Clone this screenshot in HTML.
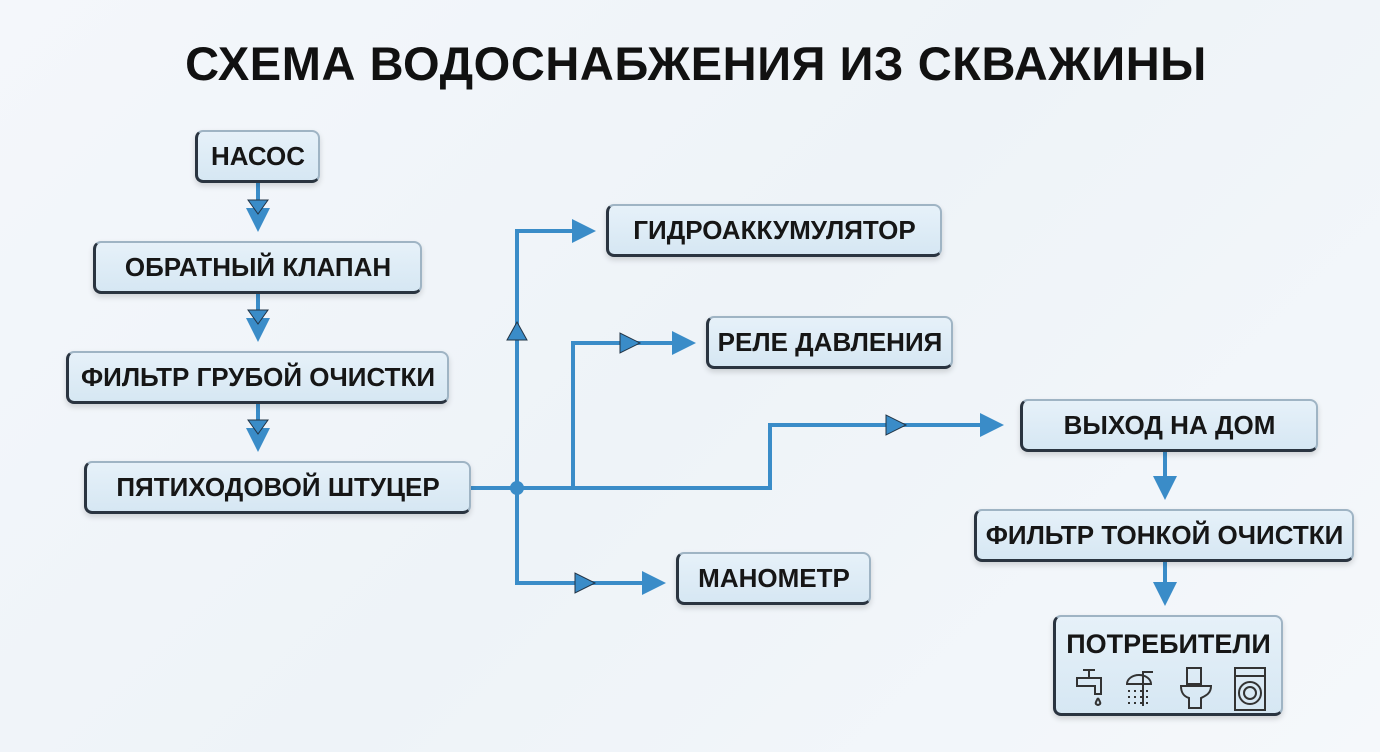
<!DOCTYPE html>
<html><head><meta charset="utf-8"><style>
body{margin:0;width:1380px;height:752px;overflow:hidden;background:linear-gradient(135deg,#f4f7fb,#eef3f8 50%,#f5f8fb);font-family:"Liberation Sans",sans-serif;position:relative}
h1{position:absolute;top:36px;left:0;width:1392px;text-align:center;margin:0;font-size:47px;font-weight:bold;color:#111;letter-spacing:0.6px}
.b{position:absolute;box-sizing:border-box;background:linear-gradient(#e6f1f9,#d6e7f3);border:2px solid #9fb4c4;border-left:3px solid #2a3440;border-bottom:3px solid #2a3440;border-radius:8px;display:flex;align-items:center;justify-content:center;font-size:26px;font-weight:bold;color:#161616;box-shadow:0 3px 6px rgba(0,0,0,.15);white-space:nowrap}
svg{position:absolute;left:0;top:0}
</style></head><body>
<h1>СХЕМА ВОДОСНАБЖЕНИЯ ИЗ СКВАЖИНЫ</h1>
<svg width="1380" height="752">
<defs><marker id="a" markerWidth="6" markerHeight="6" refX="5" refY="3" orient="auto" markerUnits="strokeWidth"><path d="M0,0L6,3L0,6z" fill="#3a8cc8"/></marker></defs>
<g stroke="#3a8cc8" stroke-width="4" fill="none">
<path d="M258 183V228" marker-end="url(#a)"/>
<path d="M258 294V338" marker-end="url(#a)"/>
<path d="M258 404V448" marker-end="url(#a)"/>
<path d="M471 488H770V425H1000" marker-end="url(#a)"/>
<path d="M517 585V231H592" marker-end="url(#a)"/>
<path d="M517 583H662" marker-end="url(#a)"/>
<path d="M573 488V343H692" marker-end="url(#a)"/>
<path d="M1165 452V496" marker-end="url(#a)"/>
<path d="M1165 562V602" marker-end="url(#a)"/>
</g>
<g fill="#3a8cc8" stroke="#234" stroke-width="1">
<path d="M248 200L268 200L258 214z"/><path d="M248 310L268 310L258 324z"/><path d="M248 420L268 420L258 434z"/>
<path d="M507 340L527 340L517 322z"/><path d="M620 333L620 353L640 343z"/><path d="M575 573L575 593L595 583z"/><path d="M886 415L886 435L906 425z"/>
</g>
<circle cx="517" cy="488" r="7" fill="#3a8cc8"/>
</svg>
<div class="b" style="left:195px;top:130px;width:125px;height:53px">НАСОС</div>
<div class="b" style="left:93px;top:241px;width:329px;height:53px">ОБРАТНЫЙ КЛАПАН</div>
<div class="b" style="left:66px;top:351px;width:383px;height:53px">ФИЛЬТР ГРУБОЙ ОЧИСТКИ</div>
<div class="b" style="left:84px;top:461px;width:387px;height:53px">ПЯТИХОДОВОЙ ШТУЦЕР</div>
<div class="b" style="left:606px;top:204px;width:336px;height:53px">ГИДРОАККУМУЛЯТОР</div>
<div class="b" style="left:706px;top:316px;width:247px;height:53px">РЕЛЕ ДАВЛЕНИЯ</div>
<div class="b" style="left:676px;top:552px;width:195px;height:53px">МАНОМЕТР</div>
<div class="b" style="left:1020px;top:399px;width:298px;height:53px">ВЫХОД НА ДОМ</div>
<div class="b" style="left:974px;top:509px;width:380px;height:53px">ФИЛЬТР ТОНКОЙ ОЧИСТКИ</div>
<div class="b" style="left:1053px;top:615px;width:230px;height:101px;flex-direction:column;justify-content:flex-start;padding-top:12px;font-size:27px">ПОТРЕБИТЕЛИ
<svg style="position:static;margin-top:6px" width="200" height="46" viewBox="0 0 200 46" fill="none" stroke="#333" stroke-width="2">
<path d="M8 12h24v16h-6v-8H8zM14 4h12M20 4v8M29 32c-2 4-4 6 0 7 4-1 2-3 0-7"/>
<path d="M74 40V6h10M58 18a12 9 0 0 1 24 0zM60 24v2M66 24v2M72 24v2M78 24v2M60 30v2M66 30v2M72 30v2M78 30v2M60 36v2M66 36v2M72 36v2M78 36v2"/>
<path d="M118 2h14v16h-14zM112 20h30c0 8-6 10-10 12v10h-12v-10c-6-2-8-6-8-12z"/>
<path d="M166 2h30v42h-30zM166 10h30"/><circle cx="181" cy="27" r="11"/><circle cx="181" cy="27" r="6"/>
</svg></div>
</body></html>
